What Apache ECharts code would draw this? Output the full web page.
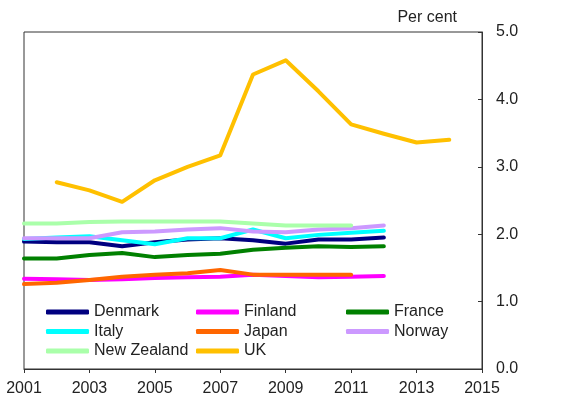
<!DOCTYPE html>
<html>
<head>
<meta charset="utf-8">
<script src="https://cdn.jsdelivr.net/npm/echarts@6.0.0/dist/echarts.min.js"></script>
<style>
    html, body { margin: 0; padding: 0; background: #fff; }
    #chart { width: 582px; height: 403px; }
</style>
</head>
<body>
<div id="chart"></div>
<script>
var years = ['2001','2002','2003','2004','2005','2006','2007','2008','2009','2010','2011','2012','2013','2014','2015'];
var denmark = [1.89, 1.88, 1.88, 1.82, 1.88, 1.92, 1.94, 1.91, 1.86, 1.92, 1.92, 1.95];
var finland = [1.34, 1.33, 1.32, 1.33, 1.35, 1.36, 1.37, 1.40, 1.38, 1.36, 1.37, 1.38];
var france = [1.64, 1.64, 1.69, 1.72, 1.66, 1.69, 1.71, 1.77, 1.80, 1.82, 1.81, 1.82];
var italy = [1.93, 1.95, 1.97, 1.91, 1.85, 1.94, 1.94, 2.07, 1.94, 1.99, 2.02, 2.05];
var japan = [1.26, 1.28, 1.32, 1.37, 1.40, 1.42, 1.47, 1.40, 1.40, 1.40, 1.40];
var norway = [1.94, 1.94, 1.94, 2.03, 2.04, 2.07, 2.09, 2.04, 2.03, 2.07, 2.09, 2.13];
var newZealand = [2.16, 2.16, 2.18, 2.19, 2.19, 2.19, 2.19, 2.16, 2.13, 2.13, 2.13];
var uk = [null, 2.77, 2.65, 2.48, 2.80, 3.00, 3.17, 4.37, 4.58, 4.12, 3.63, 3.49, 3.36, 3.40];
var yTicks = ['0.0', '1.0', '2.0', '3.0', '4.0', '5.0'];

var FONT = '"Liberation Sans", Arial, sans-serif';

var chartObj = {
    myChart : echarts.init(document.getElementById('chart')),
    option : null,
    init : function(){
        var that = this;
        that.render();
    },
    makeLine : function(name, data, color){
        return {
            name : name,
            type : 'line',
            data : data,
            symbol : 'none',
            connectNulls : false,
            lineStyle : { width : 4, color : color, cap : 'round', join : 'round' },
            itemStyle : { color : color }
        };
    },
    makeLegend : function(names, left){
        return {
            data : names,
            orient : 'vertical',
            left : left,
            top : 303,
            padding : 0,
            itemGap : 1.5,
            itemWidth : 43,
            itemHeight : 5,
            icon : 'roundRect',
            textStyle : { fontFamily : FONT, fontSize : 16, color : '#222', lineHeight : 18 }
        };
    },
    render : function(){
        var that = this;
        that.option = {
            animation : false,
            grid : {
                left : 24, right : 100, top : 32, bottom : 34,
                show : true, borderColor : '#333', borderWidth : 1
            },
            legend : [
                that.makeLegend(['Denmark', 'Italy', 'New Zealand'], 46),
                that.makeLegend(['Finland', 'Japan', 'UK'], 196),
                that.makeLegend(['France', 'Norway'], 346)
            ],
            xAxis : {
                type : 'category',
                data : years,
                boundaryGap : false,
                axisLine : { lineStyle : { color : '#333', width : 1 } },
                axisTick : { interval : 1, length : 4, lineStyle : { color : '#333' } },
                axisLabel : {
                    interval : 1, margin : 12,
                    fontFamily : FONT, fontSize : 16, color : '#222'
                },
                splitLine : { show : false }
            },
            yAxis : {
                type : 'value',
                position : 'right',
                min : 0, max : 5, interval : 1,
                name : 'Per cent',
                nameLocation : 'end',
                nameGap : 6,
                nameTextStyle : {
                    fontFamily : FONT, fontSize : 16, color : '#222',
                    align : 'right', padding : [0, 25, 0, 0]
                },
                axisLine : { show : true, lineStyle : { color : '#333', width : 1 } },
                axisTick : { show : true, inside : true, length : 4, lineStyle : { color : '#333' } },
                axisLabel : {
                    margin : 14, fontFamily : FONT, fontSize : 16, color : '#222',
                    formatter : function(v){ return yTicks[Math.round(v)]; }
                },
                splitLine : { show : false }
            },
            series : [
                that.makeLine('Denmark', denmark, '#000080'),
                that.makeLine('Finland', finland, '#ff00ff'),
                that.makeLine('France', france, '#008000'),
                that.makeLine('Italy', italy, '#00ffff'),
                that.makeLine('Japan', japan, '#ff6600'),
                that.makeLine('Norway', norway, '#cc99ff'),
                that.makeLine('New Zealand', newZealand, '#aaffaa'),
                that.makeLine('UK', uk, '#ffc000')
            ]
        };
        that.myChart.setOption(that.option);
    }
};
chartObj.init();
</script>
</body>
</html>
